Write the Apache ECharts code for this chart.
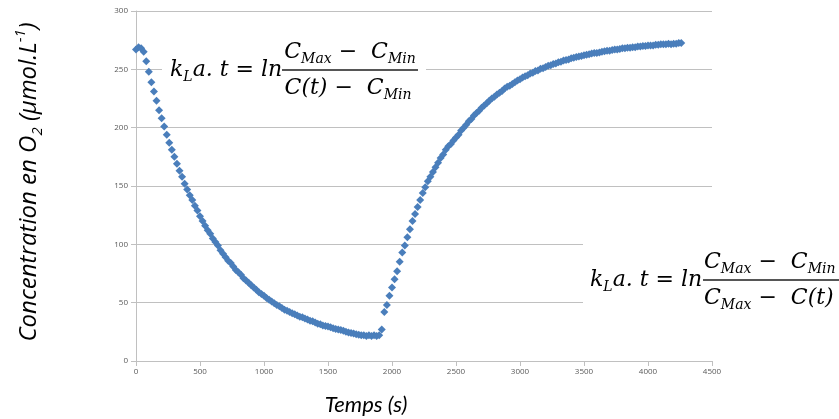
<!DOCTYPE html>
<html>
<head>
<meta charset="utf-8">
<script src="https://cdn.jsdelivr.net/npm/echarts@6/dist/echarts.min.js"></script>
<style>
html, body { margin: 0; padding: 0; background: #fff; }
#main { width: 839px; height: 419px; }
</style>
</head>
<body>
<div id="main"></div>
<script>
// O2 concentration, one measurement every 20 s
var sampleStep = 20;

// 0 -> 1900 s : aeration stopped, O2 consumed
var descente = [
    267, 269, 268, 265, 257, 248, 239, 231, 223, 215,
    208, 201, 194, 187, 181, 175, 169, 163, 158, 152,
    147, 142, 138, 133, 129, 124, 120, 116, 112, 109,
    105, 102, 99, 95, 92, 89, 86, 84, 81, 78,
    76, 74, 71, 69, 67, 65, 63, 61, 59, 57.5,
    56, 54, 52.5, 51, 49.5, 48, 47, 45.5, 44, 43,
    42, 41, 40, 39, 38, 37.5, 36.5, 35.5, 34.5, 34,
    33, 32, 31.5, 30.5, 30, 29.5, 29, 28, 27.5, 27,
    26.5, 26, 25, 24.5, 24, 23.5, 23, 22.5, 22, 22,
    21.5, 22, 21.5, 22, 21.5, 22
];

// 1920 -> 2480 s : aeration restarted
var remontee = [
    27, 42, 48, 56, 63, 70, 77, 85, 93, 99,
    106, 113, 120, 126, 132, 138, 144, 149, 154, 158,
    162, 166, 170, 174, 177, 181, 184, 186, 189
];

// 2500 -> 4260 s : back to saturation
var plateau = [
    191.5, 194, 197.5, 200, 202.5, 205.5, 207.5, 210.5, 212.5, 214.5,
    217, 219, 221, 223, 225, 226.5, 228.5, 230, 231.5, 233.5,
    235, 236, 237.5, 239, 240.5, 241.5, 243, 244, 245, 246.5,
    247, 248.5, 249, 250.5, 251, 252, 253, 253.5, 254.5, 255,
    256, 256.5, 257.5, 258, 258.5, 259.5, 260, 260.5, 261, 261.5,
    262, 262.5, 263, 263.5, 264, 264, 264.5, 265, 265.5, 266,
    266, 266.5, 267, 267, 267.5, 268, 268, 268.5, 268.5, 269,
    269, 269.5, 269.5, 270, 270, 270.5, 270.5, 270.5, 271, 271,
    271.5, 271.5, 271.5, 272, 271.5, 272, 272, 272.5, 272.5
];

var xMax = 4500, xInterval = 500;
var yMax = 300, yInterval = 50;

var concentrations = descente.concat(remontee, plateau);
var points = concentrations.map(function (c, i) { return [i * sampleStep, c]; });

var myChart = echarts.init(document.getElementById('main'));

var grisTexte = '#595959';
var grisLigne = '#c0c0c0';
var noir = '#1e1e1e';

// rich styles for the formulas
var richFormule = {
    i: { fontFamily: 'DejaVu Serif', fontStyle: 'italic', fontSize: 22, lineHeight: 30, color: noir },
    n: { fontFamily: 'DejaVu Serif', fontSize: 22, lineHeight: 30, color: noir },
    s: { fontFamily: 'DejaVu Serif', fontStyle: 'italic', fontSize: 14, lineHeight: 14, color: noir, verticalAlign: 'bottom', padding: [0, 0, 1, 0] }
};

option = {
    animation: false,
    grid: {
        left: 136,
        right: 127,
        top: 11,
        bottom: 58,
        containLabel: false
    },
    xAxis: {
        type: 'value',
        min: 0,
        max: xMax,
        interval: xInterval,
        axisLine: { show: true, lineStyle: { color: grisLigne } },
        axisTick: { show: true, length: 5, lineStyle: { color: grisLigne } },
        axisLabel: {
            fontSize: 8, color: grisTexte, margin: 7, fontFamily: 'Open Sans',
            formatter: function (v) { return String(v); }
        },
        splitLine: { show: false }
    },
    yAxis: {
        type: 'value',
        min: 0,
        max: yMax,
        interval: yInterval,
        axisLine: { show: true, lineStyle: { color: grisLigne } },
        axisTick: { show: true, length: 5, lineStyle: { color: grisLigne } },
        axisLabel: { fontSize: 8, color: grisTexte, margin: 8, fontFamily: 'Open Sans' },
        splitLine: { show: true, lineStyle: { color: grisLigne, width: 1 } }
    },
    graphic: [
        // axis titles
        {
            type: 'text',
            x: 29, y: 182,
            rotation: Math.PI / 2,
            style: {
                text: '{m|Concentration en O}{sub|2}{m| (µmol.L}{sup|-1}{m|)}',
                align: 'center',
                verticalAlign: 'middle',
                rich: {
                    m: { fontFamily: 'Open Sans', fontStyle: 'italic', fontSize: 24, lineHeight: 32, color: '#000' },
                    sub: { fontFamily: 'Open Sans', fontStyle: 'italic', fontSize: 15, lineHeight: 15, verticalAlign: 'bottom', color: '#000' },
                    sup: { fontFamily: 'Open Sans', fontStyle: 'italic', fontSize: 15, lineHeight: 15, verticalAlign: 'top', color: '#000' }
                }
            }
        },
        {
            type: 'text',
            x: 366, y: 405,
            style: {
                text: 'Temps (s)',
                align: 'center',
                verticalAlign: 'middle',
                fontFamily: 'Lato', fontStyle: 'italic', fontSize: 22, fill: '#000'
            }
        },
        // formula 1 (descent)
        { type: 'rect', z: 50, shape: { x: 162, y: 26, width: 264, height: 78 }, style: { fill: '#fff' } },
        {
            type: 'text', z: 51, x: 170, y: 70,
            style: { text: '{i|k}{s|L}{i|a. t }{n|= }{i|ln}', verticalAlign: 'middle', rich: richFormule }
        },
        {
            type: 'text', z: 51, x: 350, y: 52,
            style: { text: '{i|C}{s|Max}{n| −  }{i|C}{s|Min}', align: 'center', verticalAlign: 'middle', rich: richFormule }
        },
        { type: 'line', z: 51, shape: { x1: 282, y1: 70, x2: 418, y2: 70 }, style: { stroke: noir, lineWidth: 1.5 } },
        {
            type: 'text', z: 51, x: 348, y: 88,
            style: { text: '{i|C(t)}{n| −  }{i|C}{s|Min}', align: 'center', verticalAlign: 'middle', rich: richFormule }
        },
        // formula 2 (re-aeration)
        { type: 'rect', z: 50, shape: { x: 583, y: 236, width: 256, height: 80 }, style: { fill: '#fff' } },
        {
            type: 'text', z: 51, x: 590, y: 280,
            style: { text: '{i|k}{s|L}{i|a. t }{n|= }{i|ln}', verticalAlign: 'middle', rich: richFormule }
        },
        {
            type: 'text', z: 51, x: 704, y: 262,
            style: { text: '{i|C}{s|Max}{n| −  }{i|C}{s|Min}', verticalAlign: 'middle', rich: richFormule }
        },
        { type: 'line', z: 51, shape: { x1: 703, y1: 280, x2: 839, y2: 280 }, style: { stroke: noir, lineWidth: 1.5 } },
        {
            type: 'text', z: 51, x: 704, y: 298,
            style: { text: '{i|C}{s|Max}{n| −  }{i|C(t)}', verticalAlign: 'middle', rich: richFormule }
        }
    ],
    series: [
        {
            name: 'O2',
            type: 'scatter',
            symbol: 'diamond',
            symbolSize: 8,
            itemStyle: { color: '#4a7ebb', opacity: 1 },
            data: points
        }
    ]
};
myChart.setOption(option);
</script>
</body>
</html>
